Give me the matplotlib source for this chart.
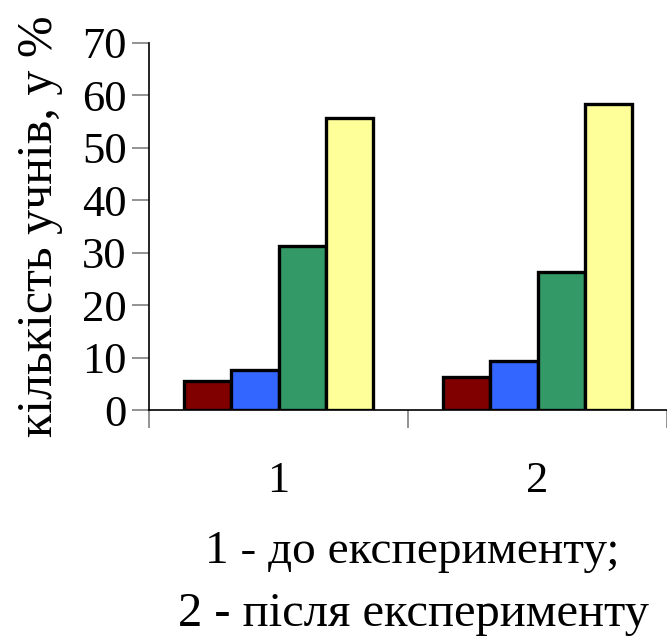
import matplotlib
matplotlib.use('Agg')
import matplotlib.pyplot as plt
import numpy as np

# дані діаграми
groups = ['1', '2']
series_1 = [5.5, 6.2]    # темно-червоний
series_2 = [7.6, 9.4]    # синій
series_3 = [31.3, 26.4]  # зелений
series_4 = [55.7, 58.4]  # жовтий
colors = ['#800000', '#3366FF', '#339966', '#FFFF99']
y_ticks = [0, 10, 20, 30, 40, 50, 60, 70]

plt.rcParams['font.family'] = ['Liberation Serif', 'DejaVu Serif']

fig = plt.figure(figsize=(6.67, 6.39), dpi=100)
ax = fig.add_axes([149 / 667, 1 - 410 / 639, 518 / 667, (410 - 43) / 639])

x = np.arange(len(groups))
w = 0.183
data = [series_1, series_2, series_3, series_4]
for i, vals in enumerate(data):
    ax.bar(x + (i - 1.5) * w, vals, width=w, color=colors[i],
           edgecolor='black', linewidth=2.4, zorder=3)

ax.set_xlim(-0.5, -0.5 + 518 / 260)
ax.set_ylim(0, 70)
ax.set_yticks(y_ticks)
ax.tick_params(axis='y', direction='out', length=12, width=1.2, color='#808080',
               labelsize=32, pad=4)

# підписи груп і розділювачі
ax.set_xticks(x)
ax.set_xticklabels(groups)
ax.set_xticks([-0.5, 0.5, 1.5], minor=True)
ax.tick_params(axis='x', which='major', length=0, labelsize=32, pad=37)
ax.tick_params(axis='x', which='minor', direction='out', length=13, width=1.2,
               color='#808080')

for s in ['top', 'right']:
    ax.spines[s].set_visible(False)
ax.spines['left'].set_linewidth(1.2)
ax.spines['bottom'].set_linewidth(1.2)

ax.set_ylabel('кількість учнів, у %', fontsize=36, labelpad=14)

fig.text(412 / 667, 1 - 552 / 639, '1 - до експерименту;', fontsize=34,
         ha='center', va='center')
fig.text(413 / 667, 1 - 614 / 639, '2 - після експерименту', fontsize=35,
         ha='center', va='center')

fig.savefig('out.png', dpi=100)
